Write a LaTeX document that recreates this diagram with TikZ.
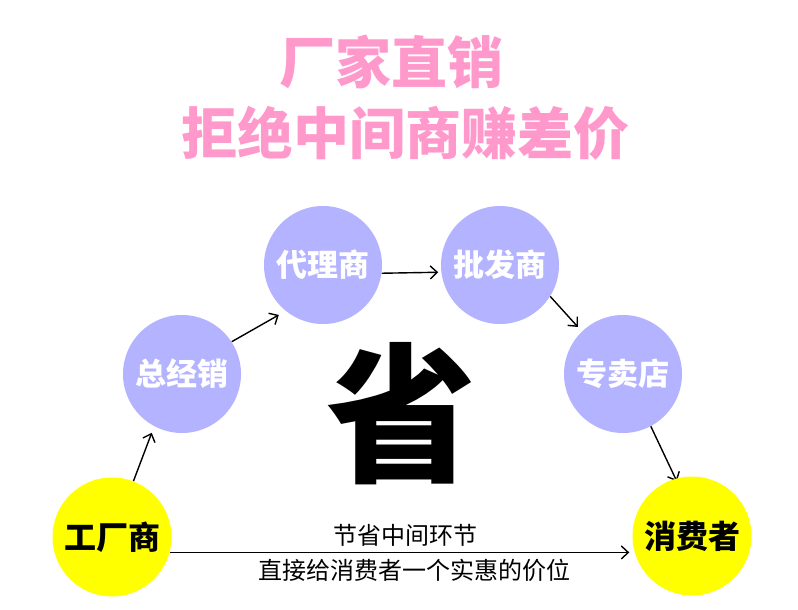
\documentclass[tikz,border=0pt]{standalone}
\usepackage{fontspec}
\usetikzlibrary{arrows.meta,backgrounds}
\newfontfamily\cjk{Noto Sans CJK SC}
\newfontfamily\cjkheavy{Noto Sans CJK SC Black}
\definecolor{pinkt}{RGB}{255,153,204}
\definecolor{lav}{RGB}{179,179,255}
\definecolor{yel}{RGB}{255,255,0}
\begin{document}
\begin{tikzpicture}[x=1pt,y=-1pt,
  title/.style={inner sep=0pt,text=pinkt,font=\cjk\bfseries\fontsize{56}{56}\selectfont},
  lavc/.style={circle,fill=lav,minimum size=118pt,inner sep=0pt,text=white,font=\cjk\bfseries\fontsize{31}{31}\selectfont},
  yelc/.style={circle,fill=yel,minimum size=119pt,inner sep=0pt,text=black,font=\cjk\bfseries\fontsize{32}{32}\selectfont},
  conn/.style={draw=black,line width=1.4pt,-{Straight Barb[length=7pt,width=13pt]}},
  note/.style={inner sep=0pt,text=black,font=\cjk\fontsize{24}{24}\selectfont},
  ]
\useasboundingbox (0,0) rectangle (798,610);
\node[title] (t1) at (391,62) {厂家直销};
\node[title] (t2) at (405,133) {拒绝中间商赚差价};

\node[lavc] (zong) at (182,374) {总经销};
\node[lavc] (daili) at (323,265) {代理商};
\node[lavc] (pifa) at (500,265) {批发商};
\node[lavc] (zhuan) at (623,374) {专卖店};
\node[yelc] (gong) at (112,537) {工厂商};
\node[yelc] (xiao) at (692,536) {消费者};

\node[inner sep=0pt,font=\cjkheavy\fontsize{150}{150}\selectfont] (sheng) at (401,414) {省};

\begin{scope}[on background layer]
\fill[white] (0,0) rectangle (798,610);
\draw[conn,shorten >=7pt] (gong.69) -- (zong.242);
\draw[conn,shorten >=8pt] (zong.33) -- (daili.231);
\draw[conn,shorten >=3pt] (daili.-8) -- (pifa.187);
\draw[conn,shorten >=6pt] (pifa.-32) -- (zhuan.134);
\draw[conn,shorten >=-3pt] (zhuan.-62) -- (xiao.106);
\draw[conn,shorten >=3pt] (gong.-15) -- (gong.-15 -| xiao.west);
\end{scope}

\node[note] (n1) at (405,535) {节省中间环节};
\node[note] (n2) at (414,570) {直接给消费者一个实惠的价位};
\end{tikzpicture}
\end{document}
